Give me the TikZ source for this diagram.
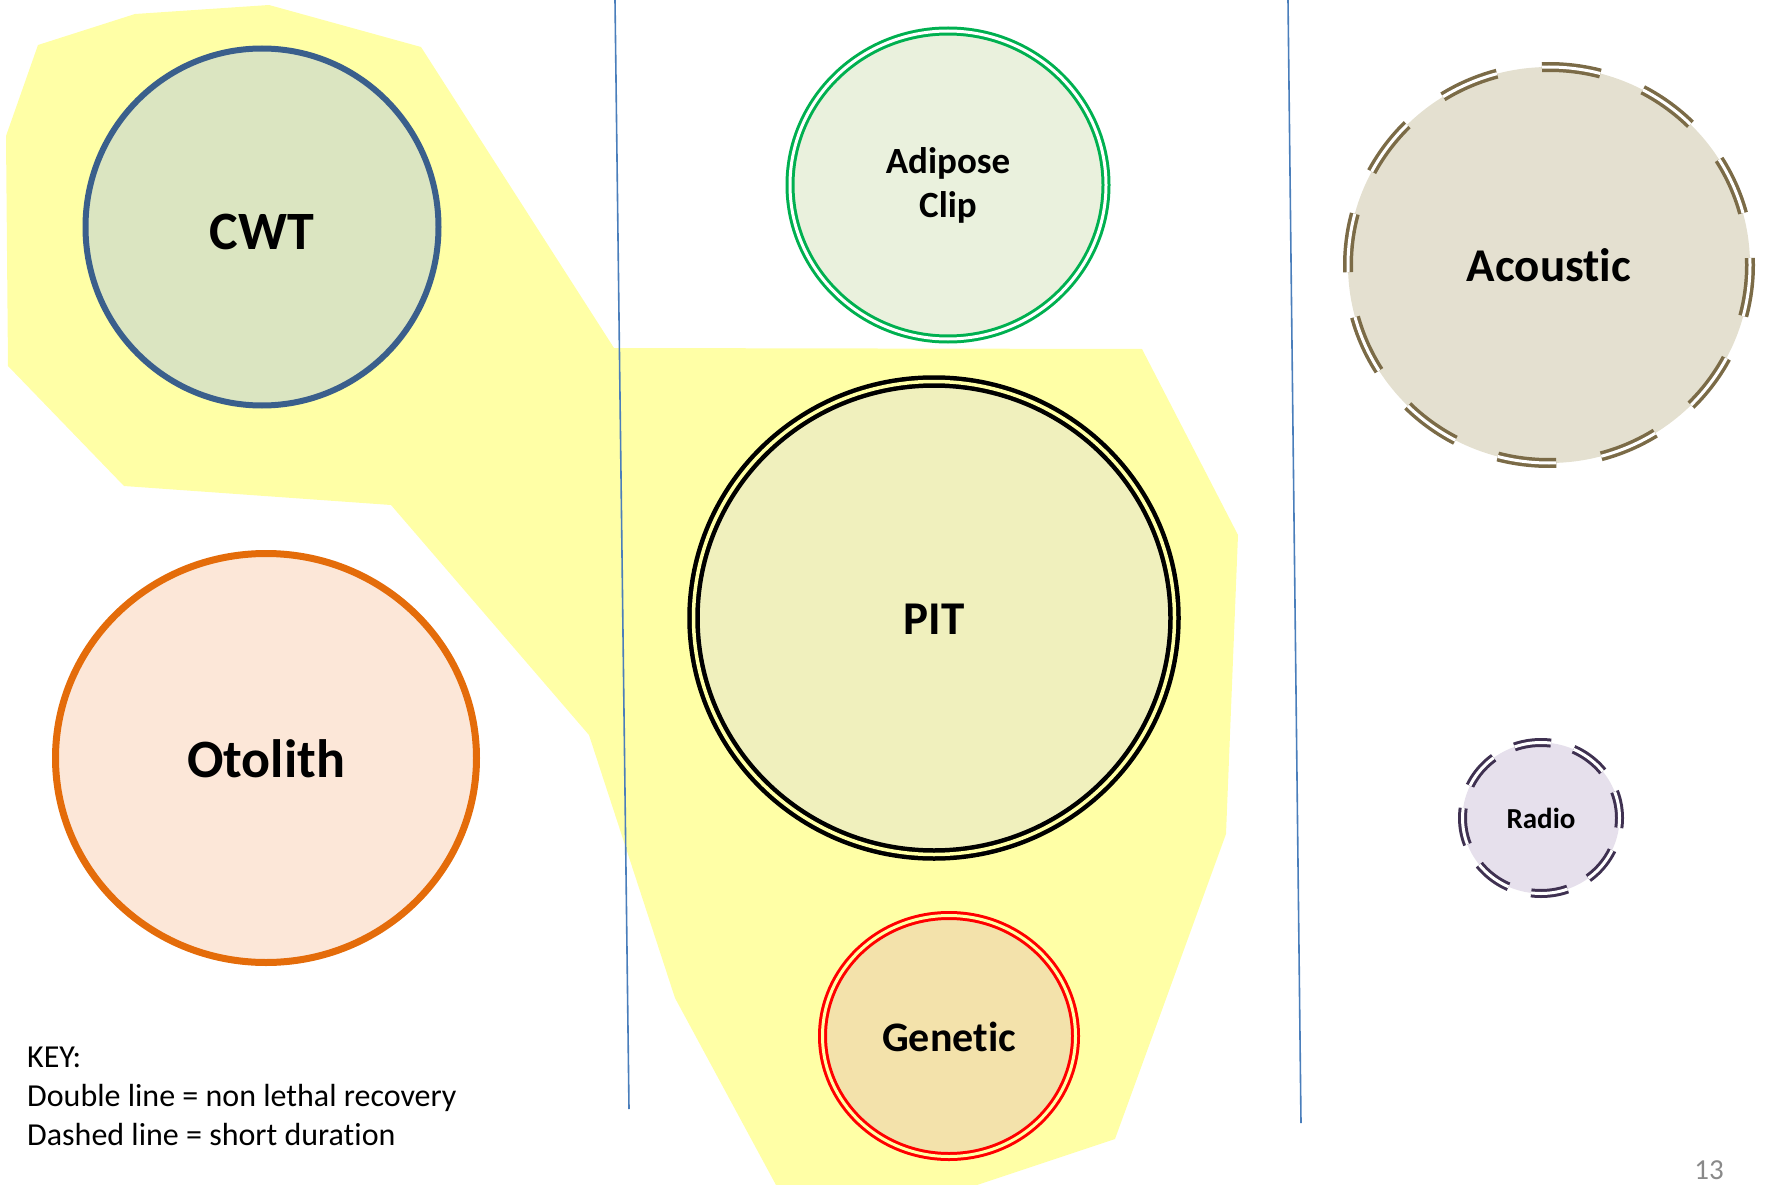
\documentclass[tikz,border=0pt]{standalone}
\usepackage{fontspec}
\setmainfont{Carlito}[Ligatures=NoCommon]
\usepackage{tikz}
\usetikzlibrary{shapes.geometric, positioning}

\definecolor{hiyellow}{HTML}{FFFFA6}
\definecolor{divblue}{HTML}{4A7EBB}
\definecolor{cwtline}{HTML}{3A5F8C}
\definecolor{cwtfill}{HTML}{DBE5C1}
\definecolor{otoline}{HTML}{E46C0A}
\definecolor{otofill}{HTML}{FCE7D8}
\definecolor{adiline}{HTML}{00B050}
\definecolor{adifill}{HTML}{EAF1DD}
\definecolor{pitfill}{HTML}{F0F0BD}
\definecolor{genline}{HTML}{FF0000}
\definecolor{genfill}{HTML}{F3E2AB}
\definecolor{acoline}{HTML}{7B6B47}
\definecolor{acofill}{HTML}{E4E0D0}
\definecolor{radline}{HTML}{3F3151}
\definecolor{radfill}{HTML}{E6E0EC}
\definecolor{pagegray}{HTML}{898989}

\begin{document}
\begin{tikzpicture}[
    x=1pt, y=-1pt,
    tag/.style={ellipse, inner sep=0pt, align=center},
    solidtag/.style={tag, draw, line width=6pt},
    dbltag/.style={tag, draw, double=hiyellow, line width=3pt, double distance=3pt},
    dashtag/.style={tag, draw, double=white, line width=3.5pt, double distance=3pt},
    divider/.style={draw=divblue, line width=1.6pt},
    tagfont/.style 2 args={font=\fontsize{#1}{#2}\selectfont\bfseries}
]
\useasboundingbox (0,0) rectangle (1765,1185);

%% ---- highlighted region ------------------------------------------
\fill[hiyellow] (6,136) -- (38,45) -- (135,14) -- (269,5) -- (421,47)
    -- (614,348) -- (1142,349) -- (1238,535) -- (1226,834) -- (1115,1139)
    -- (977,1185) -- (776,1185) -- (675,998) -- (589,735) -- (391,505)
    -- (124,486) -- (8,366) -- cycle;

%% ---- column dividers ---------------------------------------------
\coordinate (divAtop) at (615,0);
\coordinate (divAbot) at (629,1109);
\coordinate (divBtop) at (1288,0);
\coordinate (divBbot) at (1301,1123);
\draw[divider] (divAtop) -- (divAbot);
\draw[divider] (divBtop) -- (divBbot);

%% ---- left column -------------------------------------------------
\node[solidtag, draw=cwtline, fill=cwtfill, minimum width=353pt,
      minimum height=357pt, tagfont={54}{66}, text height=45pt, text depth=0pt] (cwt) at (262,227) {CWT};
\node[solidtag, draw=otoline, fill=otofill, line width=7pt,
      minimum width=421pt, minimum height=409pt, tagfont={54}{66}, text height=39pt, text depth=0pt] (otolith) at (266,758) {Otolith};

%% ---- middle column -----------------------------------------------
\node[dbltag, draw=adiline, fill=adifill, double=white, minimum width=316pt,
      minimum height=308pt, tagfont={37}{44}] (adipose) at (948,185) {Adipose\\Clip};
\node[dbltag, draw=black, fill=pitfill, line width=4.5pt, double distance=3.5pt,
      minimum width=481pt, minimum height=473pt, tagfont={47}{57}, text height=32pt, text depth=0pt] (pit) at (934,618) {PIT};
\node[dbltag, draw=genline, fill=genfill, minimum width=253pt,
      minimum height=241pt, tagfont={42}{51}, text height=31pt, text depth=0pt] (genetic) at (949,1036) {Genetic};

%% ---- right column ------------------------------------------------
\node[dashtag, draw=acoline, fill=acofill, dash pattern=on 59pt off 45.5pt, dash phase=52pt,
      minimum width=402pt, minimum height=396pt, tagfont={47}{57}, text height=33pt, text depth=0pt] (acoustic) at (1549,265) {Acoustic};
\node[dashtag, draw=radline, fill=radfill, line width=3pt,
      dash pattern=on 37pt off 23.5pt, dash phase=10pt,
      minimum width=157pt, minimum height=151pt, tagfont={29}{35}, text height=20pt, text depth=0pt] (radio) at (1541,818) {Radio};

%% ---- key and page number -----------------------------------------
\node[anchor=base west, align=left, inner sep=0pt,
      font=\fontsize{32}{39}\selectfont] (key) at (27,1145)
      {KEY:\\Double line = non lethal recovery\\Dashed line = short duration};
\node[anchor=base east, inner sep=0pt, text=pagegray,
      font=\fontsize{29}{34}\selectfont] (pagenum) at (1724,1179) {13};

\end{tikzpicture}
\end{document}
